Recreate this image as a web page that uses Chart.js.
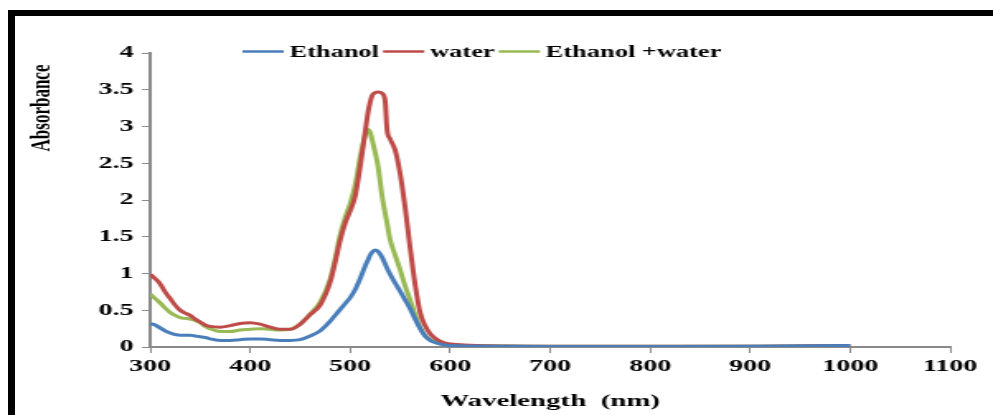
<!DOCTYPE html>
<html>
<head>
<meta charset="utf-8">
<title>Absorbance spectra</title>
<script src="https://cdn.jsdelivr.net/npm/chart.js@4.4.1/dist/chart.umd.min.js"></script>
<style>
  html, body { margin: 0; padding: 0; background: #fff; }
  #wrap { position: relative; width: 993px; height: 415px; overflow: hidden; }
  #frame {
    position: absolute; left: 8px; top: 10px; right: 0; bottom: 0;
    border-top: 6px solid #000; border-left: 7px solid #000;
  }
  #chart { position: absolute; left: 0; top: 0; }
</style>
</head>
<body>
<div id="wrap">
  <!-- the original figure is stretched sideways, so the canvas is drawn narrow and widened by its inline style -->
  <canvas id="chart" width="602" height="415" style="width:993px;height:415px"></canvas>
  <div id="frame"></div>
</div>
<script>
// Wavelength grid (nm) shared by all three spectra
const wavelengths = [
  300, 305, 310, 315, 320, 325, 330, 335, 340, 345, 350, 355, 360,
  370, 380, 390, 400, 410, 420, 430, 440, 450, 460, 470, 480,
  485, 490, 495, 500, 505, 510, 515,
  518, 520, 522, 525, 528, 532, 535, 537, 540,
  545, 550, 555, 560, 565, 570, 575, 580, 585, 590,
  600, 620, 650, 700, 800, 900, 1000
];

// Absorbance
const ethanol = [
  0.32, 0.30, 0.26, 0.22, 0.19, 0.17, 0.16, 0.16, 0.16, 0.15, 0.14, 0.13, 0.11,
  0.09, 0.09, 0.10, 0.11, 0.11, 0.10, 0.09, 0.09, 0.10, 0.15, 0.22, 0.35,
  0.43, 0.51, 0.59, 0.67, 0.78, 0.93, 1.10,
  1.19, 1.25, 1.29, 1.32, 1.30, 1.22, 1.13, 1.07, 0.99,
  0.87, 0.76, 0.64, 0.52, 0.38, 0.25, 0.15, 0.09, 0.06, 0.04,
  0.02, 0.012, 0.01, 0.008, 0.008, 0.01, 0.02
];

const water = [
  0.99, 0.93, 0.86, 0.75, 0.66, 0.57, 0.50, 0.46, 0.43, 0.38, 0.34, 0.30, 0.28,
  0.27, 0.29, 0.32, 0.33, 0.31, 0.27, 0.24, 0.24, 0.31, 0.44, 0.57, 0.88,
  1.15, 1.45, 1.68, 1.85, 2.05, 2.45, 2.92,
  3.20, 3.33, 3.42, 3.46, 3.47, 3.45, 3.35, 2.95, 2.83,
  2.68, 2.36, 1.90, 1.35, 0.85, 0.47, 0.29, 0.18, 0.12, 0.08,
  0.04, 0.025, 0.015, 0.01, 0.01, 0.01, 0.02
];

const ethanolWater = [
  0.72, 0.66, 0.60, 0.53, 0.47, 0.43, 0.40, 0.39, 0.38, 0.36, 0.33, 0.28, 0.25,
  0.21, 0.21, 0.23, 0.24, 0.25, 0.24, 0.23, 0.24, 0.31, 0.45, 0.61, 0.92,
  1.20, 1.52, 1.76, 1.95, 2.20, 2.58, 2.88,
  2.96, 2.92, 2.82, 2.65, 2.45, 2.05, 1.82, 1.68, 1.46,
  1.25, 1.05, 0.83, 0.64, 0.44, 0.27, 0.15, 0.10, 0.07, 0.05,
  0.03, 0.02, 0.015, 0.01, 0.01, 0.01, 0.02
];

const seriesNames = ['Ethanol', 'water', 'Ethanol +water'];

// Axis ticks
const xTicks = [300, 400, 500, 600, 700, 800, 900, 1000, 1100];
const xTickLabels = ['300', '400', '500', '600', '700', '800', '900', '1000', '1100'];
const yTicks = [0, 0.5, 1, 1.5, 2, 2.5, 3, 3.5, 4];
const yTickLabels = ['0', '0.5', '1', '1.5', '2', '2.5', '3', '3.5', '4'];

const COLORS = {
  ethanol: '#4a7ebb',
  water: '#be4b48',
  mix: '#98b954',
  axis: '#8a8a8a'
};

const SERIF = '"Liberation Serif", "Times New Roman", serif';

function toPoints(values) {
  return wavelengths.map((w, i) => ({ x: w, y: values[i] }));
}

// Excel-style legend sitting on top of the plot, plus the y title near the top
const decorPlugin = {
  id: 'decor',
  afterDraw(chart) {
    const ctx = chart.ctx;
    ctx.save();
    ctx.fillStyle = '#000';
    ctx.textBaseline = 'middle';
    ctx.textAlign = 'left';
    ctx.font = 'bold 16px ' + SERIF;
    let x = 147;
    chart.data.datasets.forEach(ds => {
      ctx.strokeStyle = ds.borderColor;
      ctx.lineWidth = 2.5;
      ctx.beginPath();
      ctx.moveTo(x, 51.5);
      ctx.lineTo(x + 25, 51.5);
      ctx.stroke();
      x += 28.5;
      ctx.fillText(ds.label, x, 53);
      x += ctx.measureText(ds.label).width + 2.5;
    });

    ctx.translate(25.5, 108);
    ctx.rotate(-Math.PI / 2);
    ctx.textAlign = 'center';
    ctx.font = 'bold 17px ' + SERIF;
    ctx.fillText('Absorbance', 0, 0);
    ctx.restore();
  }
};

function initChart() {
  const canvas = document.getElementById('chart');
  const tickFont = { family: SERIF, size: 17, weight: 'bold' };

  new Chart(canvas, {
    type: 'line',
    data: {
      datasets: [
        { label: seriesNames[0], data: toPoints(ethanol), borderColor: COLORS.ethanol },
        { label: seriesNames[1], data: toPoints(water), borderColor: COLORS.water },
        { label: seriesNames[2], data: toPoints(ethanolWater), borderColor: COLORS.mix }
      ]
    },
    options: {
      responsive: false,
      animation: false,
      layout: { padding: { top: 53, right: 26, bottom: 0, left: 0 } },
      elements: {
        point: { radius: 0 },
        line: { borderWidth: 3, cubicInterpolationMode: 'monotone', fill: false }
      },
      plugins: {
        legend: { display: false },
        tooltip: { enabled: false }
      },
      scales: {
        x: {
          type: 'linear',
          min: 300,
          max: 1100,
          afterBuildTicks: scale => { scale.ticks = xTicks.map(v => ({ value: v })); },
          afterFit: scale => { scale.height = 68; },
          ticks: {
            font: tickFont,
            color: '#000',
            padding: 3,
            maxRotation: 0,
            autoSkip: false,
            callback: (value, i) => xTickLabels[i]
          },
          grid: { display: true, drawOnChartArea: false, drawTicks: true, tickLength: 6, color: COLORS.axis, lineWidth: 1 },
          border: { display: true, color: COLORS.axis, width: 2 },
          title: {
            display: true,
            text: 'Wavelength  (nm)',
            color: '#000',
            font: { family: SERIF, size: 17.5, weight: 'bold' },
            padding: { top: 0, bottom: 3.5 }
          }
        },
        y: {
          min: 0,
          max: 4,
          afterBuildTicks: scale => { scale.ticks = yTicks.map(v => ({ value: v })); },
          afterFit: scale => { scale.width = 91; },
          ticks: {
            font: tickFont,
            color: '#000',
            padding: 5,
            autoSkip: false,
            callback: (value, i) => yTickLabels[i]
          },
          grid: { display: true, drawOnChartArea: false, drawTicks: true, tickLength: 5, color: COLORS.axis, lineWidth: 1 },
          border: { display: true, color: COLORS.axis, width: 2 }
        }
      }
    },
    plugins: [decorPlugin]
  });
}

document.addEventListener('DOMContentLoaded', initChart);
</script>
</body>
</html>
